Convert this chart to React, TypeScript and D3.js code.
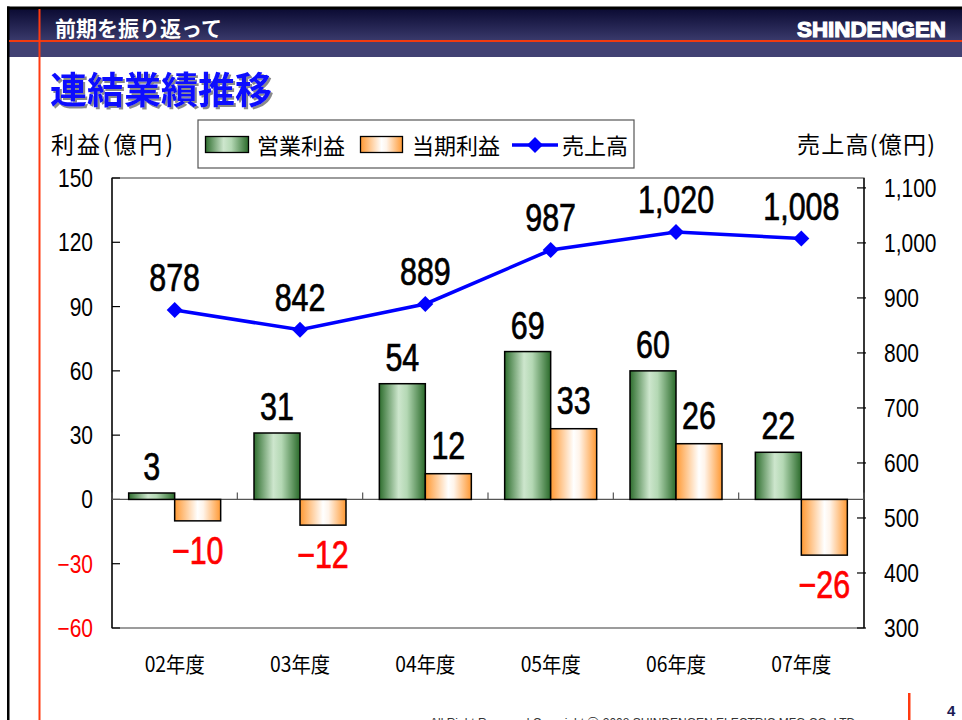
import React from "react";
import * as d3 from "d3";

const categories = ["02年度", "03年度", "04年度", "05年度", "06年度", "07年度"];
const operatingProfit = [3, 31, 54, 69, 60, 22];
const netProfit = [-10, -12, 12, 33, 26, -26];
const sales = [878, 842, 889, 987, 1020, 1008];
const leftTicks = [150, 120, 90, 60, 30, 0, -30, -60];
const rightTicks = [1100, 1000, 900, 800, 700, 600, 500, 400, 300];
const leftDomain = [-60, 150];
const rightDomain = [300, 1118];

const W = 962;
const H = 720;
const PL = 112, PR = 864, PT = 178, PB = 628;

const NUM = "'Liberation Sans', Arial, sans-serif";
const JP = "'Noto Sans CJK JP', sans-serif";

function NText(props: { x: number; y: number; sx: number; size: number; anchor?: string; fill?: string; weight?: number; children: any; family?: string; stroke?: number }) {
  const { x, y, sx, size, anchor = "middle", fill = "#000", weight = 400, children, family = NUM, stroke = 0 } = props;
  return (
    <text transform={`translate(${x},${y}) scale(${sx},1)`} textAnchor={anchor as any} fontFamily={family}
      fontSize={size} fontWeight={weight} fill={fill} stroke={stroke ? fill : "none"} strokeWidth={stroke}>
      {children}
    </text>
  );
}

export default function App() {
  const x = d3.scaleBand<string>().domain(categories).range([PL, PR]).paddingInner(0.266).paddingOuter(0.133);
  const x1 = d3.scaleBand<string>().domain(["op", "net"]).range([0, x.bandwidth()]);
  const y = d3.scaleLinear().domain(leftDomain).range([PB, PT]);
  const y2 = d3.scaleLinear().domain(rightDomain).range([PB, PT]);
  const fmt = d3.format(",");
  const fmtL = d3.format("");
  const step = x.step();
  const cxOf = (i: number) => (x(categories[i]) as number) + x.bandwidth() / 2;
  const line = d3.line<number>().x((_, i) => cxOf(i)).y((d) => y2(d));
  const y0 = y(0);

  return (
    <svg width={W} height={H} style={{ position: "absolute", left: 0, top: 0, background: "#fff" }}>
      <defs>
        <linearGradient id="hdr" x1="0" y1="0" x2="0" y2="1">
          <stop offset="0" stopColor="#0b0b33" />
          <stop offset="1" stopColor="#3a3a6c" />
        </linearGradient>
        <linearGradient id="gGreen" x1="0" y1="0" x2="1" y2="0">
          <stop offset="0" stopColor="#2e6e2e" />
          <stop offset="0.42" stopColor="#cde6cd" />
          <stop offset="0.6" stopColor="#b4d8b4" />
          <stop offset="1" stopColor="#2a6a2a" />
        </linearGradient>
        <linearGradient id="gOrange" x1="0" y1="0" x2="1" y2="0">
          <stop offset="0" stopColor="#ff9933" />
          <stop offset="0.5" stopColor="#ffffff" />
          <stop offset="0.62" stopColor="#fff4ea" />
          <stop offset="1" stopColor="#ff9933" />
        </linearGradient>
        <filter id="shadow" x="-5%" y="-20%" width="115%" height="150%">
          <feDropShadow dx="2" dy="2" stdDeviation="0.6" floodColor="#8a8a8a" floodOpacity="1" />
        </filter>
      </defs>

      {/* header */}
      <rect x={7} y={9} width={W - 7} height={32} fill="url(#hdr)" />
      <rect x={7} y={42} width={W - 7} height={15} fill="#414173" />
      <rect x={7} y={6.5} width={W - 7} height={3} fill="#000" />
      <rect x={7} y={6.5} width={2.5} height={H} fill="#000" />
      <rect x={9} y={40} width={W - 9} height={2} fill="#f03a10" />
      <rect x={38.5} y={9} width={2} height={H} fill="#ff3a10" />
      <text x={55} y={36} fill="#fff" fontFamily={JP} fontSize={21} fontWeight={700}>前期を振り返って</text>
      <text x={797} y={37} fill="#fff" fontFamily={NUM} fontSize={22} fontWeight={900}
        textLength={149} lengthAdjust="spacingAndGlyphs" stroke="#fff" strokeWidth={1.2}>SHINDENGEN</text>

      {/* title */}
      <text x={50} y={104} fill="#0a0aff" fontFamily={JP} fontSize={37} fontWeight={700} filter="url(#shadow)">連結業績推移</text>

      {/* axis titles */}
      <text x={51} y={153} fontFamily={JP} fontSize={23} fill="#000" textLength={122} lengthAdjust="spacing">利益(億円)</text>
      <text x={797} y={153} fontFamily={JP} fontSize={23} fill="#000" textLength={138} lengthAdjust="spacing">売上高(億円)</text>

      {/* legend */}
      <rect x={198} y={120} width={436} height={48} fill="#fff" stroke="#555" strokeWidth={1.2} />
      <rect x={205.5} y={136.5} width={43} height={16} fill="url(#gGreen)" stroke="#000" strokeWidth={1.3} />
      <text x={257} y={154} fontFamily={JP} fontSize={22} fill="#000">営業利益</text>
      <rect x={360.5} y={136.5} width={42} height={16} fill="url(#gOrange)" stroke="#000" strokeWidth={1.3} />
      <text x={412} y={154} fontFamily={JP} fontSize={22} fill="#000">当期利益</text>
      <line x1={512} x2={558} y1={145} y2={145} stroke="#0000ff" strokeWidth={3.5} />
      <path d={`M535,137L543,145L535,153L527,145Z`} fill="#0000ff" />
      <text x={562} y={154} fontFamily={JP} fontSize={22} fill="#000">売上高</text>

      {/* plot frame */}
      <rect x={PL} y={PT} width={PR - PL} height={PB - PT} fill="none" stroke="#5a5a5a" strokeWidth={1.2} />
      <line x1={PL} x2={PL} y1={PT} y2={PB} stroke="#000" strokeWidth={1.3} />
      <line x1={PR} x2={PR} y1={PT} y2={PB} stroke="#000" strokeWidth={1.3} />

      {/* left ticks */}
      {leftTicks.map((t) => (
        <g key={"l" + t}>
          <line x1={PL} x2={PL + 8} y1={y(t)} y2={y(t)} stroke="#000" strokeWidth={1.2} />
          <NText x={93} y={y(t) + 9} sx={0.84} size={25} anchor="end" fill={t < 0 ? "#ff0000" : "#000"}>{fmtL(t)}</NText>
        </g>
      ))}
      {/* right ticks */}
      {rightTicks.map((t) => (
        <g key={"r" + t}>
          <line x1={PR - 7} x2={PR + 2} y1={y2(t)} y2={y2(t)} stroke="#000" strokeWidth={1.2} />
          <NText x={884} y={y2(t) + 9} sx={0.84} size={25} anchor="start">{fmt(t)}</NText>
        </g>
      ))}

      {/* zero line + category ticks */}
      <line x1={PL} x2={PR} y1={y0} y2={y0} stroke="#555" strokeWidth={1.2} />
      {d3.range(categories.length + 1).map((k) => (
        <line key={"ct" + k} x1={PL + k * step} x2={PL + k * step} y1={y0 - 7} y2={y0} stroke="#555" strokeWidth={1.2} />
      ))}

      {/* bars */}
      {categories.map((c, i) => {
        const bx = x(c) as number;
        const op = operatingProfit[i];
        const np = netProfit[i];
        return (
          <g key={c}>
            <rect x={bx + (x1("op") as number)} y={Math.min(y(op), y0)} width={x1.bandwidth()} height={Math.abs(y(op) - y0)}
              fill="url(#gGreen)" stroke="#000" strokeWidth={1.5} />
            <rect x={bx + (x1("net") as number)} y={Math.min(y(np), y0)} width={x1.bandwidth()} height={Math.abs(y(np) - y0)}
              fill="url(#gOrange)" stroke="#000" strokeWidth={1.5} />
          </g>
        );
      })}

      {/* category labels */}
      {categories.map((c, i) => (
        <NText key={"cl" + c} x={cxOf(i)} y={672} sx={0.92} size={21} family={JP}>{c}</NText>
      ))}

      {/* sales line */}
      <path d={line(sales) as string} fill="none" stroke="#0000ff" strokeWidth={3.5} />
      {sales.map((s, i) => {
        const cx = cxOf(i);
        const cy = y2(s);
        return <path key={"m" + i} d={`M${cx},${cy - 8}L${cx + 8},${cy}L${cx},${cy + 8}L${cx - 8},${cy}Z`} fill="#0000ff" />;
      })}

      {/* data labels */}
      {sales.map((s, i) => (
        <NText key={"sl" + i} x={cxOf(i)} y={y2(s) - 19} sx={0.8} size={38} stroke={0.7}>{fmt(s)}</NText>
      ))}
      {operatingProfit.map((v, i) => (
        <NText key={"ol" + i} x={(x(categories[i]) as number) + (x1("op") as number) + x1.bandwidth() / 2} y={y(v) - 13}
          sx={0.8} size={38} stroke={0.7}>{fmtL(v)}</NText>
      ))}
      {netProfit.map((v, i) => (
        <NText key={"nl" + i} x={(x(categories[i]) as number) + (x1("net") as number) + x1.bandwidth() / 2}
          y={v >= 0 ? y(v) - 15 : y(v) + 43} sx={0.8} size={38} stroke={0.7}
          fill={v < 0 ? "#ff0000" : "#000"}>{fmtL(v)}</NText>
      ))}

      {/* footer */}
      <text x={430} y={727} fontFamily={NUM} fontSize={12} fill="#333">
        All Right Reserved Copyright ⓒ 2008 SHINDENGEN ELECTRIC MFG.CO.,LTD.
      </text>
      <rect x={908} y={693} width={2.5} height={27} fill="#ff3a10" />
      <text x={947} y={716} fontFamily={NUM} fontSize={15} fontWeight={700} fill="#1a1a55">4</text>
    </svg>
  );
}
